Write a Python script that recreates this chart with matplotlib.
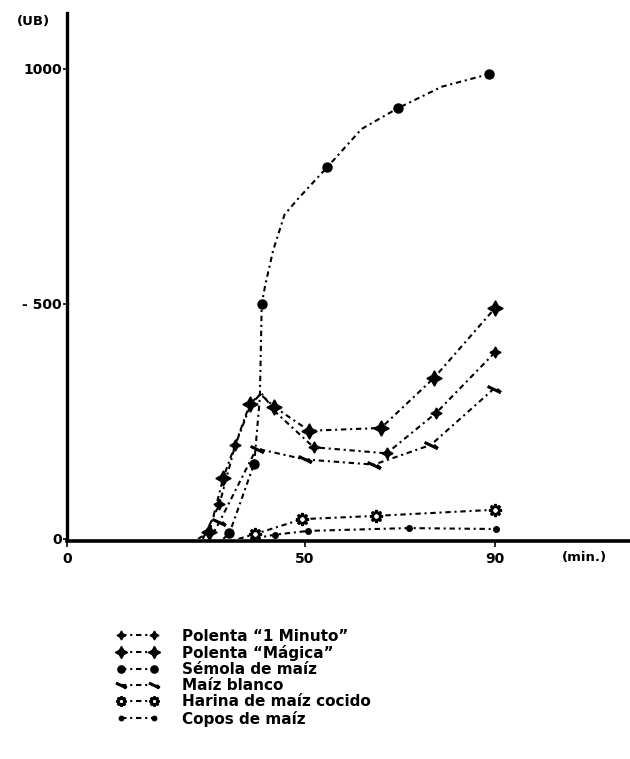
import numpy as np
import matplotlib
matplotlib.use("Agg")
import matplotlib.pyplot as plt
from matplotlib.path import Path

plt.rcParams['font.family'] = ['DejaVu Sans']

# --- data (minutes, UB) ---
labels = ['Polenta “1 Minuto”', 'Polenta “Mágica”', 'Sémola de maíz',
          'Maíz blanco', 'Harina de maíz cocido', 'Copos de maíz']

# Polenta "1 Minuto"
min_1minuto = [28.5, 32.0, 35.3, 38.6, 40.8, 44.0, 51.8, 67.2, 77.6, 90.0]
ub_1minuto = [0, 74, 199, 286, 310, 268, 195, 182, 268, 397]
mk_1minuto = [1, 2, 6, 7, 8, 9]

# Polenta "Mágica"
min_magica = [27.5, 29.9, 32.8, 38.4, 40.6, 43.5, 50.9, 66.0, 77.2, 90.0]
ub_magica = [0, 15, 130, 287, 308, 281, 230, 236, 343, 491]
mk_magica = [1, 2, 3, 5, 6, 7, 8, 9]

# Sémola de maíz
min_semola = [32.8, 34.1, 39.3, 40.5, 40.9, 41.6, 43.3, 45.7, 48.4, 54.7, 61.9, 69.5, 78.8, 88.8]
ub_semola = [0, 12, 160, 300, 500, 538, 614, 690, 722, 791, 872, 916, 962, 989]
mk_semola = [1, 2, 4, 9, 11, 13]

# Maíz blanco
min_blanco = [30.0, 32.0, 39.8, 50.0, 64.5, 76.5, 89.7]
ub_blanco = [0, 36, 192, 169, 158, 200, 319]
mk_blanco = [1, 2, 3, 4, 5, 6]

# Harina de maíz cocido
min_harina = [36.0, 39.4, 49.4, 65.0, 90.0]
ub_harina = [0, 10, 42, 49, 62]
mk_harina = [1, 2, 3, 4]

# Copos de maíz
min_copos = [39.5, 43.6, 50.7, 71.8, 90.3]
ub_copos = [1, 9, 17, 23, 21]
mk_copos = [1, 2, 3, 4]

xticks = [0, 50, 90]
yticks = [0, 500, 1000]
ytick_labels = ['0', '- 500', '1000']

# arrow-like marker for "Maíz blanco"
arrow_marker = Path([(-1.0, 0.45), (0.9, -0.45), (0.9, -0.45), (0.35, 0.05)],
                    [Path.MOVETO, Path.LINETO, Path.MOVETO, Path.LINETO])

dash = (0, (2.6, 1.8, 1.0, 1.8))

fig = plt.figure(figsize=(6.30, 7.59), dpi=100)
ax = fig.add_axes([0.107, 0.290, 0.893, 0.693])

series = [
    (min_1minuto, ub_1minuto, mk_1minuto, dict(marker=(4, 1, 0), markersize=8, color='black')),
    (min_magica, ub_magica, mk_magica, dict(marker=(4, 1, 0), markersize=11, color='black')),
    (min_semola, ub_semola, mk_semola, dict(marker='o', markersize=6.5, color='black')),
    (min_blanco, ub_blanco, mk_blanco, dict(marker=arrow_marker, markersize=10, color='black',
                                            markeredgewidth=2.2)),
    (min_harina, ub_harina, mk_harina, dict(marker=(8, 1, 0), markersize=9, color='black',
                                            markerfacecolor='white', markeredgewidth=1.8)),
    (min_copos, ub_copos, mk_copos, dict(marker='o', markersize=4, color='black')),
]

handles = []
for (xs, ys, mk, style), lab in zip(series, labels):
    h, = ax.plot(xs, ys, linestyle=dash, linewidth=1.5, markevery=mk,
                 label=lab, **style)
    handles.append(h)

ax.set_xlim(0, 118.4)
ax.set_ylim(0, 1119)
for s in ['top', 'right']:
    ax.spines[s].set_visible(False)
ax.spines['left'].set_linewidth(2.4)
ax.spines['bottom'].set_linewidth(2.6)
ax.spines['bottom'].set_position(('data', -4))

ax.set_xticks(xticks)
ax.set_xticklabels([str(t) for t in xticks], fontsize=10, fontweight='bold')
ax.set_yticks(yticks)
ax.set_yticklabels(ytick_labels, fontsize=10, fontweight='bold')
ax.tick_params(axis='x', length=4, width=1.2, pad=4)
ax.tick_params(axis='y', length=3, width=1.2, pad=1)

fig.text(0.027, 0.972, '(UB)', fontsize=9.5, fontweight='bold', va='center')
fig.text(0.892, 0.265, '(min.)', fontsize=9.5, fontweight='bold', va='center')

fig.legend(handles=handles, loc='upper left', bbox_to_anchor=(0.172, 0.182),
           frameon=False, numpoints=2, handlelength=2.8, markerscale=0.8,
           handletextpad=1.5, labelspacing=0.08, borderpad=0,
           prop={'weight': 'bold', 'size': 11})

fig.savefig('out.png', dpi=100)
